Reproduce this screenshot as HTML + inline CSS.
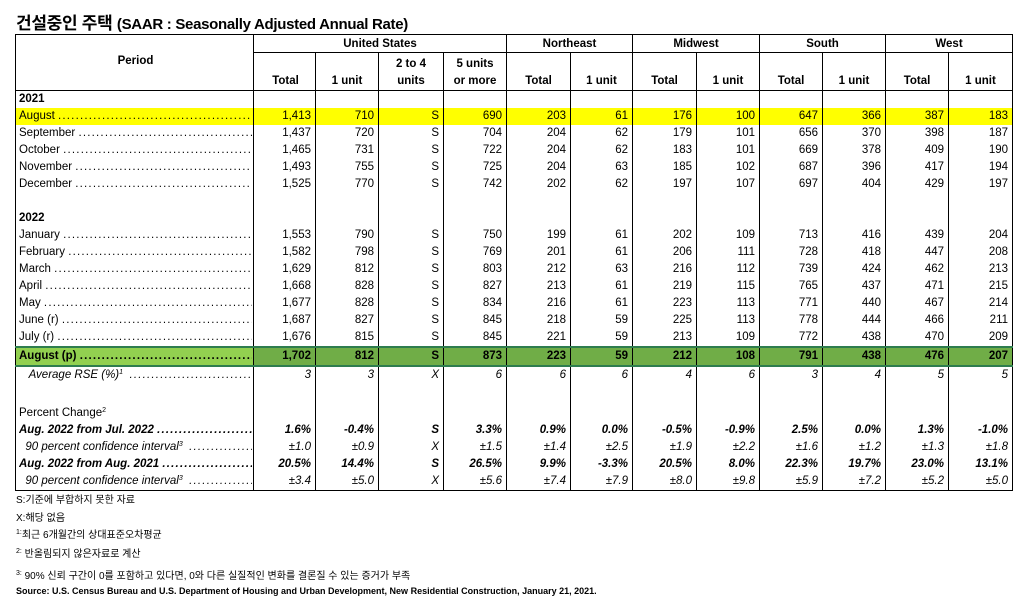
<!DOCTYPE html>
<html><head><meta charset="utf-8">
<style>
body{margin:0;width:1023px;height:606px;background:#fff;font-family:"Liberation Sans","Noto Sans CJK KR",sans-serif;color:#000;position:relative;overflow:hidden}
.title{position:absolute;left:16px;top:9px;font-size:17px;font-weight:bold;letter-spacing:-0.3px}
.title small{font-size:15px}
table{position:absolute;left:15px;top:34px;width:997px;border-collapse:collapse;table-layout:fixed;font-size:11.5px}
td{padding:0 4px;height:17px;line-height:17px;border-left:1px solid #000;border-right:1px solid #000;text-align:right;white-space:nowrap;overflow:hidden;box-sizing:border-box}
td:first-child{text-align:left;padding-left:3px;padding-right:1px}
.h td{font-weight:bold;text-align:center;line-height:16px}
.lab{display:flex;width:100%;overflow:hidden}
.lab span{flex:none}
.lab span.d{flex:1 1 0;min-width:0;overflow:hidden;letter-spacing:1.2px}
.lab span.d::before{content:"................................................................................................"}
.y td{background:#ffff00}
.g td{background:#70ad47;font-weight:bold;border-top:2px solid #2e7d4f;border-bottom:2px solid #2e7d4f}
.g td:first-child{background:#92d050}
.i td{font-style:italic}
.b td{font-weight:bold;font-style:italic}
.foot{position:absolute;left:16px;font-size:10px}
sup{font-size:7px;vertical-align:4px;line-height:0}
</style></head><body>
<div class="title">건설중인 주택 <small>(SAAR : Seasonally Adjusted Annual Rate)</small></div>
<table>
<colgroup><col style="width:238px"><col style="width:62px"><col style="width:63px"><col style="width:65px"><col style="width:63px"><col style="width:64px"><col style="width:62px"><col style="width:64px"><col style="width:63px"><col style="width:63px"><col style="width:63px"><col style="width:63px"><col style="width:64px"></colgroup>
<tr class="h" style="border-top:1px solid #000"><td rowspan="3" style="text-align:center;vertical-align:top;padding-top:18px;border-bottom:1px solid #000">Period</td><td colspan="4" style="height:18px;border-bottom:1px solid #000">United States</td><td colspan="2" style="border-bottom:1px solid #000">Northeast</td><td colspan="2" style="border-bottom:1px solid #000">Midwest</td><td colspan="2" style="border-bottom:1px solid #000">South</td><td colspan="2" style="border-bottom:1px solid #000">West</td></tr>
<tr class="h"><td style="height:19px"></td><td></td><td style="vertical-align:bottom">2 to 4</td><td style="vertical-align:bottom">5 units</td><td></td><td></td><td></td><td></td><td></td><td></td><td></td><td></td></tr>
<tr class="h" style="border-bottom:1px solid #000"><td style="height:19px">Total</td><td>1 unit</td><td>units</td><td>or more</td><td>Total</td><td>1 unit</td><td>Total</td><td>1 unit</td><td>Total</td><td>1 unit</td><td>Total</td><td>1 unit</td></tr>
<tr><td style="font-weight:bold">2021</td><td></td><td></td><td></td><td></td><td></td><td></td><td></td><td></td><td></td><td></td><td></td><td></td></tr>
<tr class="y"><td><div class="lab"><span>August&nbsp;</span><span class="d"></span></div></td><td>1,413</td><td>710</td><td>S</td><td>690</td><td>203</td><td>61</td><td>176</td><td>100</td><td>647</td><td>366</td><td>387</td><td>183</td></tr>
<tr><td><div class="lab"><span>September&nbsp;</span><span class="d"></span></div></td><td>1,437</td><td>720</td><td>S</td><td>704</td><td>204</td><td>62</td><td>179</td><td>101</td><td>656</td><td>370</td><td>398</td><td>187</td></tr>
<tr><td><div class="lab"><span>October&nbsp;</span><span class="d"></span></div></td><td>1,465</td><td>731</td><td>S</td><td>722</td><td>204</td><td>62</td><td>183</td><td>101</td><td>669</td><td>378</td><td>409</td><td>190</td></tr>
<tr><td><div class="lab"><span>November&nbsp;</span><span class="d"></span></div></td><td>1,493</td><td>755</td><td>S</td><td>725</td><td>204</td><td>63</td><td>185</td><td>102</td><td>687</td><td>396</td><td>417</td><td>194</td></tr>
<tr><td><div class="lab"><span>December&nbsp;</span><span class="d"></span></div></td><td>1,525</td><td>770</td><td>S</td><td>742</td><td>202</td><td>62</td><td>197</td><td>107</td><td>697</td><td>404</td><td>429</td><td>197</td></tr>
<tr><td></td><td></td><td></td><td></td><td></td><td></td><td></td><td></td><td></td><td></td><td></td><td></td><td></td></tr>
<tr><td style="font-weight:bold">2022</td><td></td><td></td><td></td><td></td><td></td><td></td><td></td><td></td><td></td><td></td><td></td><td></td></tr>
<tr><td><div class="lab"><span>January&nbsp;</span><span class="d"></span></div></td><td>1,553</td><td>790</td><td>S</td><td>750</td><td>199</td><td>61</td><td>202</td><td>109</td><td>713</td><td>416</td><td>439</td><td>204</td></tr>
<tr><td><div class="lab"><span>February&nbsp;</span><span class="d"></span></div></td><td>1,582</td><td>798</td><td>S</td><td>769</td><td>201</td><td>61</td><td>206</td><td>111</td><td>728</td><td>418</td><td>447</td><td>208</td></tr>
<tr><td><div class="lab"><span>March&nbsp;</span><span class="d"></span></div></td><td>1,629</td><td>812</td><td>S</td><td>803</td><td>212</td><td>63</td><td>216</td><td>112</td><td>739</td><td>424</td><td>462</td><td>213</td></tr>
<tr><td><div class="lab"><span>April&nbsp;</span><span class="d"></span></div></td><td>1,668</td><td>828</td><td>S</td><td>827</td><td>213</td><td>61</td><td>219</td><td>115</td><td>765</td><td>437</td><td>471</td><td>215</td></tr>
<tr><td><div class="lab"><span>May&nbsp;</span><span class="d"></span></div></td><td>1,677</td><td>828</td><td>S</td><td>834</td><td>216</td><td>61</td><td>223</td><td>113</td><td>771</td><td>440</td><td>467</td><td>214</td></tr>
<tr><td><div class="lab"><span>June (r)&nbsp;</span><span class="d"></span></div></td><td>1,687</td><td>827</td><td>S</td><td>845</td><td>218</td><td>59</td><td>225</td><td>113</td><td>778</td><td>444</td><td>466</td><td>211</td></tr>
<tr><td><div class="lab"><span>July (r)&nbsp;</span><span class="d"></span></div></td><td>1,676</td><td>815</td><td>S</td><td>845</td><td>221</td><td>59</td><td>213</td><td>109</td><td>772</td><td>438</td><td>470</td><td>209</td></tr>
<tr class="g"><td style="height:17px;line-height:13px"><div class="lab"><span>August (p)&nbsp;</span><span class="d"></span></div></td><td>1,702</td><td>812</td><td>S</td><td>873</td><td>223</td><td>59</td><td>212</td><td>108</td><td>791</td><td>438</td><td>476</td><td>207</td></tr>
<tr class="i"><td><div class="lab"><span>&nbsp;&nbsp;&nbsp;Average RSE (%)<sup>1</sup>&nbsp;&nbsp;</span><span class="d"></span></div></td><td>3</td><td>3</td><td>X</td><td>6</td><td>6</td><td>6</td><td>4</td><td>6</td><td>3</td><td>4</td><td>5</td><td>5</td></tr>
<tr><td style="height:21px"></td><td></td><td></td><td></td><td></td><td></td><td></td><td></td><td></td><td></td><td></td><td></td><td></td></tr>
<tr><td>Percent Change<sup>2</sup></td><td></td><td></td><td></td><td></td><td></td><td></td><td></td><td></td><td></td><td></td><td></td><td></td></tr>
<tr class="b"><td><div class="lab"><span>Aug. 2022 from Jul. 2022&nbsp;</span><span class="d"></span></div></td><td>1.6%</td><td>-0.4%</td><td>S</td><td>3.3%</td><td>0.9%</td><td>0.0%</td><td>-0.5%</td><td>-0.9%</td><td>2.5%</td><td>0.0%</td><td>1.3%</td><td>-1.0%</td></tr>
<tr class="i"><td><div class="lab"><span>&nbsp;&nbsp;90 percent confidence interval<sup>3</sup>&nbsp;&nbsp;</span><span class="d"></span></div></td><td>±1.0</td><td>±0.9</td><td>X</td><td>±1.5</td><td>±1.4</td><td>±2.5</td><td>±1.9</td><td>±2.2</td><td>±1.6</td><td>±1.2</td><td>±1.3</td><td>±1.8</td></tr>
<tr class="b"><td><div class="lab"><span>Aug. 2022 from Aug. 2021&nbsp;</span><span class="d"></span></div></td><td>20.5%</td><td>14.4%</td><td>S</td><td>26.5%</td><td>9.9%</td><td>-3.3%</td><td>20.5%</td><td>8.0%</td><td>22.3%</td><td>19.7%</td><td>23.0%</td><td>13.1%</td></tr>
<tr class="i" style="border-bottom:1px solid #000"><td><div class="lab"><span>&nbsp;&nbsp;90 percent confidence interval<sup>3</sup>&nbsp;&nbsp;</span><span class="d"></span></div></td><td>±3.4</td><td>±5.0</td><td>X</td><td>±5.6</td><td>±7.4</td><td>±7.9</td><td>±8.0</td><td>±9.8</td><td>±5.9</td><td>±7.2</td><td>±5.2</td><td>±5.0</td></tr>
</table>
<div class="foot" style="top:491px">S:기준에 부합하지 못한 자료</div>
<div class="foot" style="top:509px">X:해당 없음</div>
<div class="foot" style="top:526px"><sup>1:</sup>최근 6개월간의 상대표준오차평균</div>
<div class="foot" style="top:545px"><sup>2:</sup> 반올림되지 않은자료로 계산</div>
<div class="foot" style="top:567px"><sup>3:</sup> 90% 신뢰 구간이 0를 포함하고 있다면, 0와 다른 실질적인 변화를 결론질 수 있는 증거가 부족</div>
<div class="foot" style="top:586px;font-weight:bold;font-size:9px">Source: U.S. Census Bureau and U.S. Department of Housing and Urban Development, New Residential Construction, January 21, 2021.</div>
</body></html>
